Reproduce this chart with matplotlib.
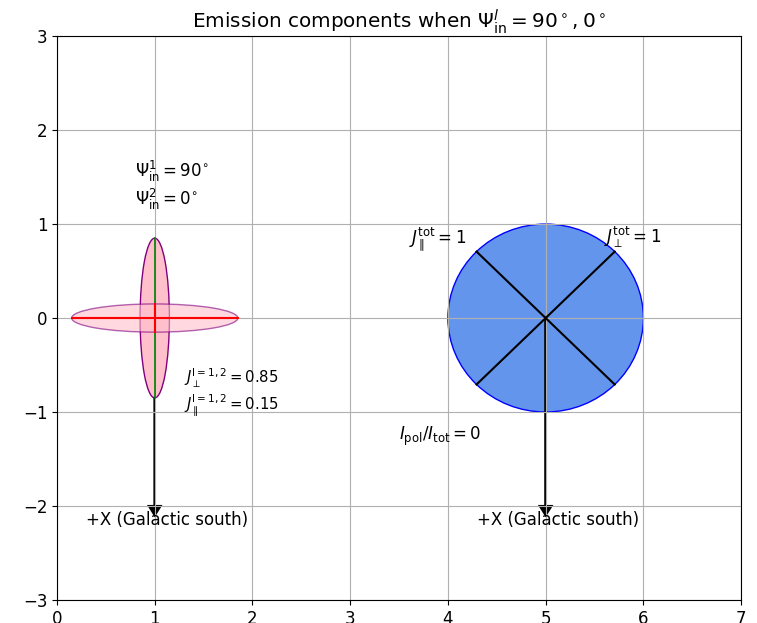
import numpy as np
import matplotlib
matplotlib.use('Agg')
import matplotlib.pyplot as plt
from matplotlib.patches import Ellipse, Circle

# component values
j_perp = 0.85
j_par = 0.15
j_tot = 1.0
left_x, right_x = 1, 5
arrow_len = 2.0
diag_angles = [45, 135, 225, 315]

plt.rcParams['font.size'] = 12
fig = plt.figure(figsize=(7.57, 6.23), dpi=100)
ax = fig.add_axes([0.0753, 0.037, 0.9037, 0.905])

# left: the two single components
e1 = Ellipse((left_x, 0), 2 * j_par, 2 * j_perp, facecolor='pink', edgecolor='purple', lw=1)
e2 = Ellipse((left_x, 0), 2 * j_perp, 2 * j_par, facecolor='pink', edgecolor='purple', alpha=0.6, lw=1)
ax.add_patch(e1)
ax.add_patch(e2)
ax.plot([left_x, left_x], [-j_perp, j_perp], color='green', lw=1.2)
ax.plot([left_x - j_perp, left_x + j_perp], [0, 0], color='red', lw=1.5)
ax.plot([left_x, left_x], [-j_par, j_par], color='red', lw=1.5)

# right: total emission
c = Circle((right_x, 0), j_tot, facecolor='cornflowerblue', edgecolor='blue', lw=1)
ax.add_patch(c)
for a in diag_angles:
    t = np.deg2rad(a)
    ax.plot([right_x, right_x + j_tot * np.cos(t)], [0, j_tot * np.sin(t)], color='black', lw=1.5)

# arrows pointing to +X
for x0, y0 in [(left_x, -j_perp), (right_x, 0)]:
    ax.arrow(x0, y0, 0, -arrow_len - y0, head_width=0.12, head_length=0.1, fc='black', ec='black', lw=1.5)
    ax.text(x0 - 0.7, -2.2, '+X (Galactic south)')

ax.text(0.8, 1.5, r'$\Psi^1_{\rm in} = 90^{\circ}$')
ax.text(0.8, 1.2, r'$\Psi^2_{\rm in} = 0^{\circ}$')
ax.text(1.3, -0.7, r'$J_{\perp}^{\rm l=1,2} = 0.85$', fontsize=10.7)
ax.text(1.3, -0.97, r'$J_{\parallel}^{\rm l=1,2} = 0.15$', fontsize=10.7)
ax.text(3.6, 0.8, r'$J_{\parallel}^{\rm tot} = 1$')
ax.text(5.6, 0.8, r'$J_{\perp}^{\rm tot} = 1$')
ax.text(3.5, -1.3, r'$I_{\rm pol}/I_{\rm tot} = 0$')

ax.set_xlim(0, 7)
ax.set_ylim(-3, 3)
ax.grid(True)
ax.set_title(r'Emission components when $\Psi^{l}_{\rm in} = 90^\circ, 0^\circ$', fontsize=14.4)

fig.savefig('out.png', dpi=100)
